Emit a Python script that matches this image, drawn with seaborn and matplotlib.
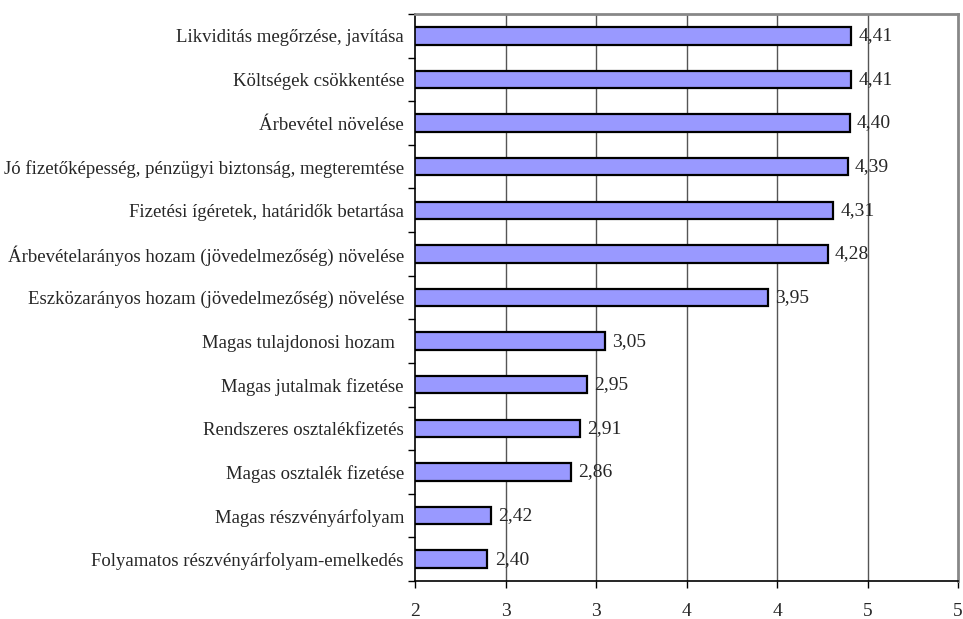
import matplotlib
matplotlib.use('Agg')
import matplotlib.pyplot as plt
import seaborn as sns
import pandas as pd
import numpy as np

categories = [
    'Likviditás megőrzése, javítása',
    'Költségek csökkentése',
    'Árbevétel növelése',
    'Jó fizetőképesség, pénzügyi biztonság, megteremtése',
    'Fizetési ígéretek, határidők betartása',
    'Árbevételarányos hozam (jövedelmezőség) növelése',
    'Eszközarányos hozam (jövedelmezőség) növelése',
    'Magas tulajdonosi hozam  ',
    'Magas jutalmak fizetése',
    'Rendszeres osztalékfizetés',
    'Magas osztalék fizetése',
    'Magas részvényárfolyam',
    'Folyamatos részvényárfolyam-emelkedés',
]
values = [4.41, 4.41, 4.40, 4.39, 4.31, 4.28, 3.95, 3.05, 2.95, 2.91, 2.86, 2.42, 2.40]
x_ticks = [2, 2.5, 3, 3.5, 4, 4.5, 5]
x_tick_labels = ['2', '3', '3', '4', '4', '5', '5']

df = pd.DataFrame({'cat': categories, 'val': values})

sns.set_style('white')
plt.rcParams['font.family'] = ['Liberation Serif', 'DejaVu Serif']

fig = plt.figure(figsize=(9.63, 6.19), dpi=100)
ax = fig.add_axes([0.431, 0.0614, 0.564, 0.916])

# gridlines first so bars sit on top
for xv in x_ticks[1:-1]:
    ax.axvline(xv, color='#555555', lw=1, zorder=0)

sns.barplot(data=df, x='val', y='cat', orient='h', color='#9999FF',
            edgecolor='black', linewidth=1.6, width=0.4, saturation=1,
            ax=ax, zorder=2)

ax.set_xlim(2, 5)
ax.set_ylim(len(categories) - 0.5, -0.5)
ax.set_xlabel('')
ax.set_ylabel('')

for i, v in enumerate(values):
    ax.text(v + 0.04, i, f'{v:.2f}'.replace('.', ','), va='center', ha='left',
            fontsize=14, zorder=3)

ax.set_xticks(x_ticks)
ax.set_xticklabels(x_tick_labels, fontsize=14)
ax.tick_params(axis='x', direction='out', length=5, width=1, color='black',
               pad=11, bottom=True)

ax.set_yticks(range(len(categories)))
ax.set_yticklabels(categories, fontsize=13.5)
ax.set_yticks(np.arange(-0.5, len(categories), 1), minor=True)
ax.tick_params(axis='y', which='major', length=0, pad=8)
ax.tick_params(axis='y', which='minor', direction='out', length=5, width=1,
               color='black', left=True)

for side in ['left', 'bottom']:
    ax.spines[side].set_color('black')
    ax.spines[side].set_linewidth(1.2)
for side in ['top', 'right']:
    ax.spines[side].set_color('#888888')
    ax.spines[side].set_linewidth(2)

fig.savefig('out.png', dpi=100)
